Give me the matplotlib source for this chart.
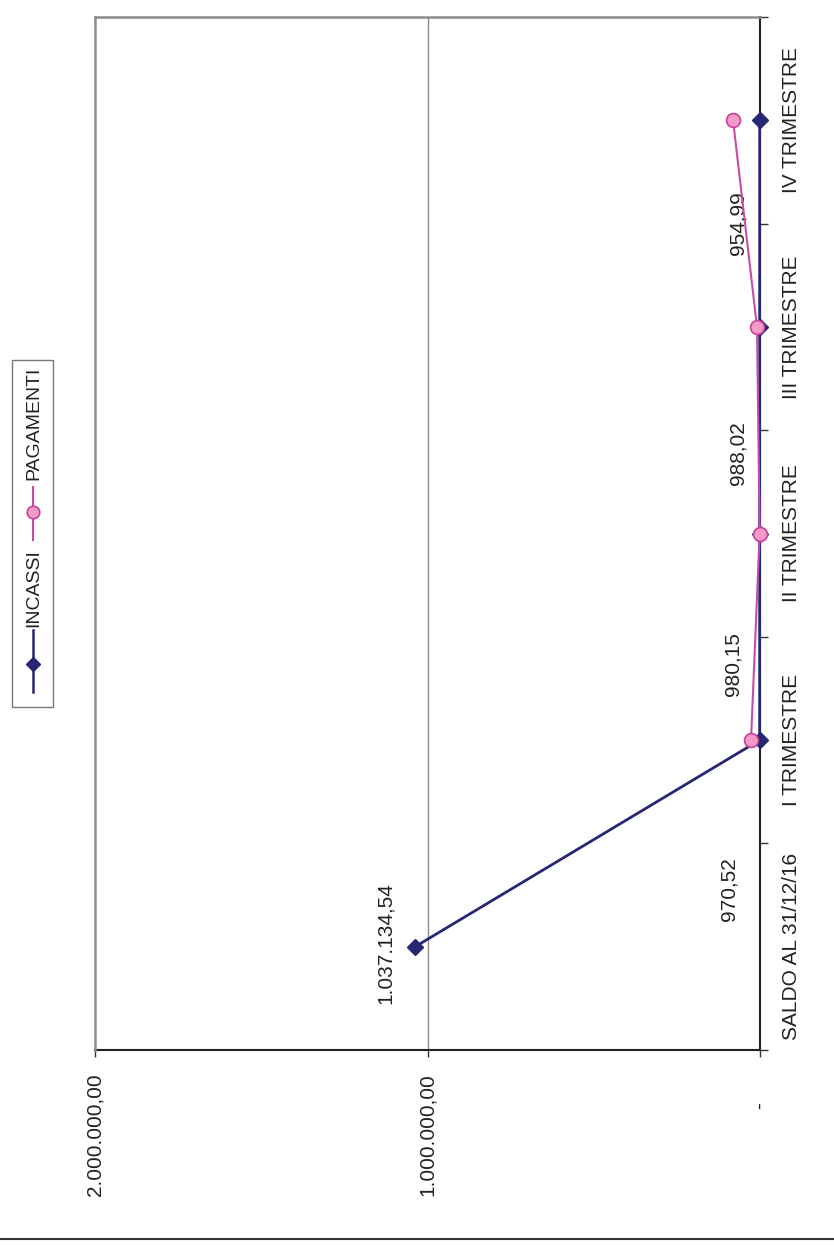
"""
Incassi / pagamenti per trimestre, grafico ruotato di 90 gradi.
Output: out.png
"""
import numpy as np
import matplotlib.pyplot as plt
from matplotlib.lines import Line2D
from matplotlib.patches import Rectangle

plt.rcParams["font.family"] = ["Liberation Sans", "DejaVu Sans"]

CATEGORIES = ["SALDO AL 31/12/16", "I TRIMESTRE", "II TRIMESTRE",
              "III TRIMESTRE", "IV TRIMESTRE"]
INCASSI = [1037134.54, 970.52, 980.15, 988.02, 954.99]
PAGAMENTI = [np.nan, 27000, 1000, 9000, 81000]
VALUE_TICKS = [0, 1000000, 2000000]
# accounting format: the dash for zero is padded like the decimals
VALUE_TICK_LABELS = ["-\u2007\u2007 ", "1.000.000,00", "2.000.000,00"]

NAVY = "#262673"
PINK_LINE = "#C64CA6"
PINK_FACE = "#F39AC8"
PINK_EDGE = "#C8409C"
TXT = "#222222"


def fmt_it(v):
    s = f"{v:,.2f}"
    return s.replace(",", "X").replace(".", ",").replace("X", ".")


def main():
    W, H = 834, 1245
    fig = plt.figure(figsize=(W / 100, H / 100), dpi=100)
    ax = fig.add_axes([95 / W, 1 - 1050 / H, (760 - 95) / W, (1050 - 17) / H])

    y = np.arange(len(CATEGORIES))
    ax.plot(INCASSI, y, color=NAVY, lw=2.0, marker="D", ms=8.5,
            mfc=NAVY, mec=NAVY, zorder=4, clip_on=False)
    ax.plot(PAGAMENTI, y, color=PINK_LINE, lw=1.5, marker="o", ms=10,
            mfc=PINK_FACE, mec=PINK_EDGE, mew=1.2, zorder=5, clip_on=False)

    ax.set_xlim(2000000, 0)
    ax.set_ylim(-0.5, len(CATEGORIES) - 0.5)

    # value axis (bottom)
    ax.set_xticks(VALUE_TICKS)
    ax.set_xticklabels(VALUE_TICK_LABELS, rotation=90, fontsize=15,
                       color=TXT, va="top")
    ax.tick_params(axis="x", direction="out", length=5, width=1,
                   color="#333333", pad=12)
    ax.axvline(1000000, color="#8c8c8c", lw=1, zorder=1)

    # category axis (right side, at value 0)
    ax.yaxis.tick_right()
    ax.set_yticks(np.arange(-0.5, len(CATEGORIES), 1.0))
    ax.set_yticklabels([])
    ax.set_yticks(y, minor=True)
    ax.set_yticklabels(CATEGORIES, minor=True, rotation=90, fontsize=15,
                       color=TXT, va="center", ha="left")
    ax.tick_params(axis="y", which="major", direction="out", length=6,
                   width=1, color="#333333")
    ax.tick_params(axis="y", which="minor", length=0, pad=16)

    for side in ["top", "left"]:
        ax.spines[side].set_color("#8c8c8c")
        ax.spines[side].set_linewidth(1.8)
    for side in ["right", "bottom"]:
        ax.spines[side].set_color("#222222")
        ax.spines[side].set_linewidth(1.5)
        ax.spines[side].set_zorder(2)

    # data labels
    ax.text(1128000, 0.02, fmt_it(INCASSI[0]), rotation=90, fontsize=15,
            color=TXT, ha="center", va="center")
    small_pos = [(93000, 0.28), (81000, 1.37), (66000, 2.39), (66000, 3.50)]
    for v, (px, py) in zip(INCASSI[1:], small_pos):
        ax.text(px, py, fmt_it(v), rotation=90, fontsize=15, color=TXT,
                ha="center", va="center")

    # legend (rotated, drawn by hand)
    lg = fig.add_axes([0, 0, 1, 1], facecolor="none")
    lg.set_xlim(0, W)
    lg.set_ylim(H, 0)
    lg.axis("off")
    lg.add_patch(Rectangle((12, 360), 41, 347, fill=False,
                           edgecolor="#777777", lw=1))
    lg.add_line(Line2D([33, 33], [630, 692], color=NAVY, lw=1.8))
    lg.plot([33], [664], marker="D", ms=7, color=NAVY)
    lg.text(34, 588, "INCASSI", rotation=90, fontsize=14, color=TXT,
            ha="center", va="center")
    lg.add_line(Line2D([33, 33], [487, 540], color=PINK_LINE, lw=1.5))
    lg.plot([33], [512], marker="o", ms=9, mfc=PINK_FACE, mec=PINK_EDGE,
            mew=1.2)
    lg.text(34, 423, "PAGAMENTI", rotation=90, fontsize=14, color=TXT,
            ha="center", va="center")

    # bottom frame line
    lg.add_line(Line2D([0, W], [1239, 1239], color="#333333", lw=1.5))

    fig.savefig("out.png", dpi=100)
    plt.close(fig)


if __name__ == "__main__":
    main()
